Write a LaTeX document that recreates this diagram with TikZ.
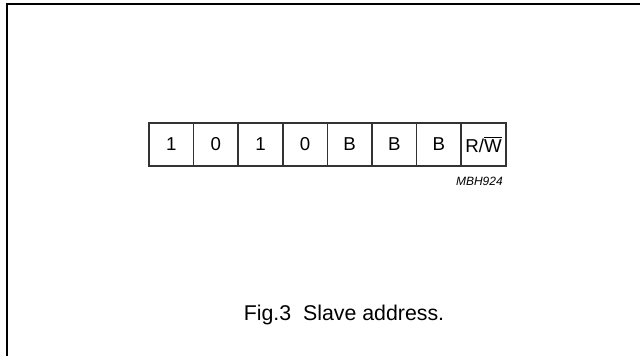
\documentclass[tikz,border=0pt]{standalone}
\usepackage{fontspec}
\setmainfont{Liberation Sans}
\usetikzlibrary{positioning}
\tikzset{
  bitcell/.style = {draw=black!80, line width=1.1pt, minimum width=#1,
                    minimum height=32.3pt, inner sep=0pt, outer sep=0pt,
                    font=\fontsize{14}{16}\selectfont},
  bitcell/.default = 33.45pt
}

\begin{document}
\begin{tikzpicture}[x=0.75pt, y=-0.75pt]
	\def \cw{44.6}
	\def \midrow{144.5}

	\useasboundingbox (0,0) rectangle (640,356);

	% Frame
	\draw[black, line width=1.5pt] (7,356) -- (7,4) -- (640,4);

	% Address bits
	\node[bitcell] (b7) at (149+0.5*\cw,\midrow) {1};
	\node[bitcell] (b6) at (149+1.5*\cw,\midrow) {0};
	\node[bitcell] (b5) at (149+2.5*\cw,\midrow) {1};
	\node[bitcell] (b4) at (149+3.5*\cw,\midrow) {0};
	\node[bitcell] (b3) at (149+4.5*\cw,\midrow) {B};
	\node[bitcell] (b2) at (149+5.5*\cw,\midrow) {B};
	\node[bitcell] (b1) at (149+6.5*\cw,\midrow) {B};
	\node[bitcell] (b0) at (149+7.5*\cw,\midrow) {R/$\overline{\mbox{W}}$};

	% Figure code
	\node[anchor=base east, inner sep=0pt, font=\fontsize{9}{11}\selectfont\itshape] (code) at (503,186) {MBH924};

	% Caption
	\node[anchor=base, inner sep=0pt, font=\fontsize{16}{19}\selectfont] (caption) at (344,321) {Fig.3\ \ Slave address.};
\end{tikzpicture}
\end{document}
